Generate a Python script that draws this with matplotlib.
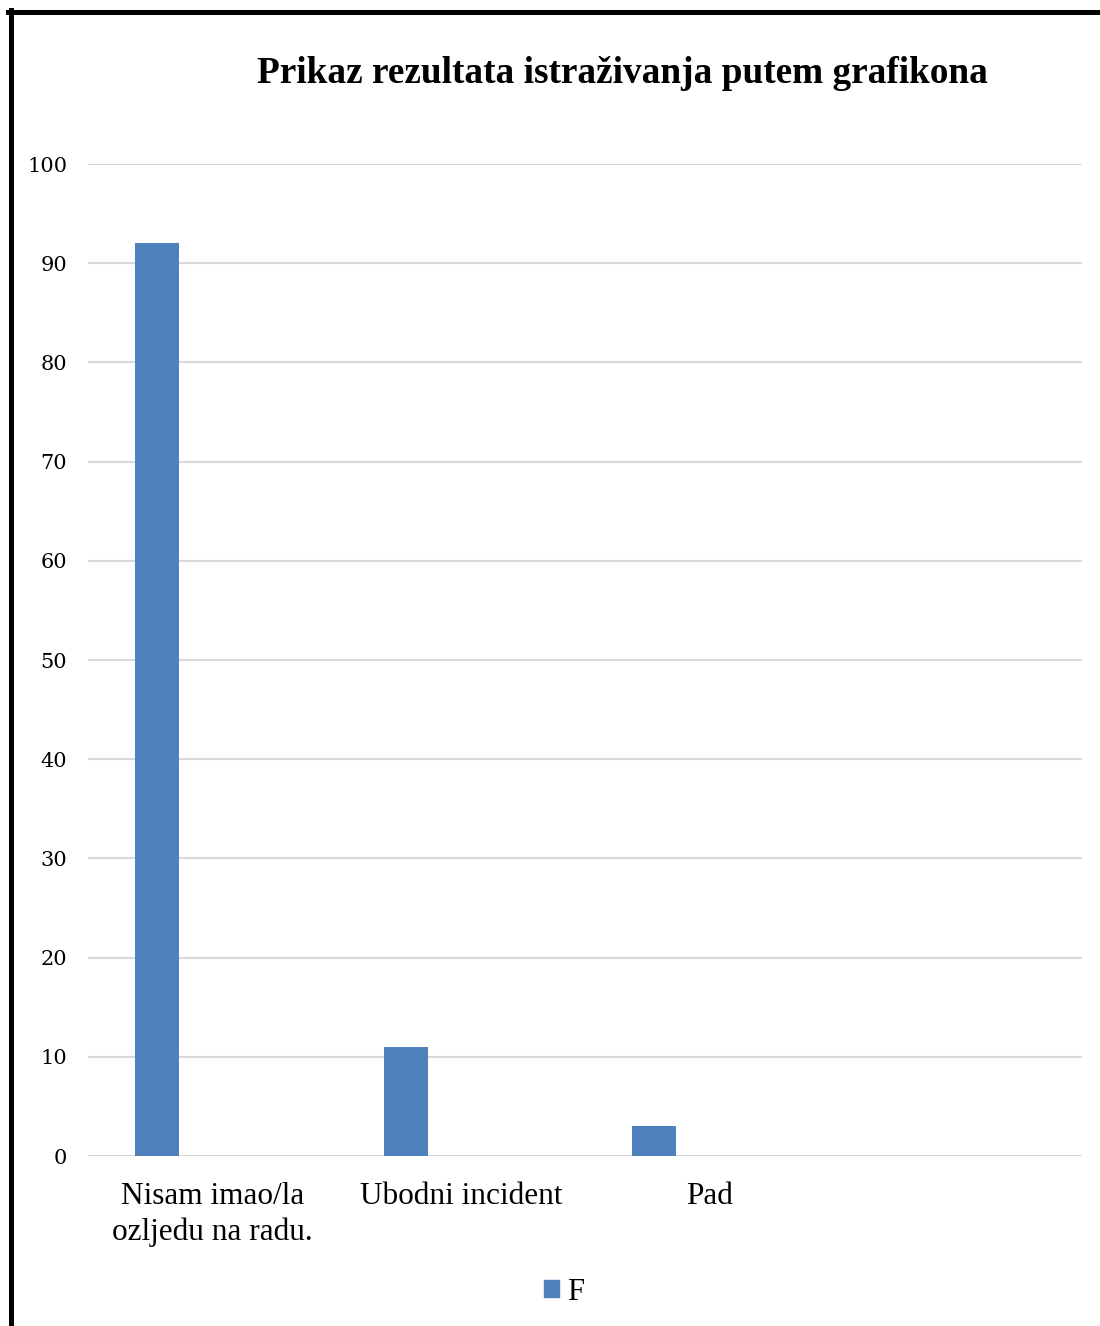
import matplotlib.pyplot as plt
from matplotlib.lines import Line2D
from matplotlib.patches import Patch
import numpy as np

# ---------------------------------------------------------------------
# Data
# ---------------------------------------------------------------------
categories = ["Nisam imao/la\nozljedu na radu.", "Ubodni incident", "Pad", ""]
values_f = [92, 11, 3, np.nan]
yticks = [0, 10, 20, 30, 40, 50, 60, 70, 80, 90, 100]
title = "Prikaz rezultata istraživanja putem grafikona"

BAR_COLOR = "#4f81bd"
GRID_COLOR = "#d9d9d9"

# ---------------------------------------------------------------------
# Plot
# ---------------------------------------------------------------------
W, H = 1100, 1326
fig = plt.figure(figsize=(W / 100, H / 100), dpi=100)
ax = fig.add_axes([88 / W, 1 - 1156 / H, (1082 - 88) / W, (1156 - 164) / H])

x = np.arange(len(categories))
ax.bar(x - 0.222, values_f, width=0.177, color=BAR_COLOR, zorder=3, label="F")

ax.set_xlim(-0.5, len(categories) - 0.5)
ax.set_ylim(0, 100)
ax.set_yticks(yticks)
ax.set_yticklabels([str(t) for t in yticks], family="DejaVu Serif", fontsize=15)
ax.set_xticks(x)
ax.set_xticklabels(categories, family="Liberation Serif", fontsize=22.5,
                   linespacing=1.3)
ax.tick_params(axis="both", length=0)
ax.tick_params(axis="y", pad=15)
ax.tick_params(axis="x", pad=18.5)

ax.yaxis.grid(True, color=GRID_COLOR, linewidth=1.5, zorder=0)
for s in ax.spines.values():
    s.set_visible(False)

fig.text(622 / W, 1 - 73.5 / H, title, ha="center", va="center",
         family="Liberation Serif", fontweight="bold", fontsize=26.8)

fig.legend(handles=[Patch(color=BAR_COLOR, label="F")],
           loc="center", bbox_to_anchor=(564 / W, 1 - 1292 / H),
           frameon=False, prop={"family": "Liberation Serif", "size": 22},
           handlelength=0.5, handleheight=0.5, handletextpad=0.25)

# chart frame (top and left edges visible)
fig.add_artist(Line2D([8 / W, 1.0], [1 - 12 / H, 1 - 12 / H], color="black",
                      linewidth=3.6, transform=fig.transFigure))
fig.add_artist(Line2D([10.5 / W, 10.5 / W], [1 - 10 / H, 0], color="black",
                      linewidth=3.6, transform=fig.transFigure))

fig.savefig("out.png", dpi=100)
